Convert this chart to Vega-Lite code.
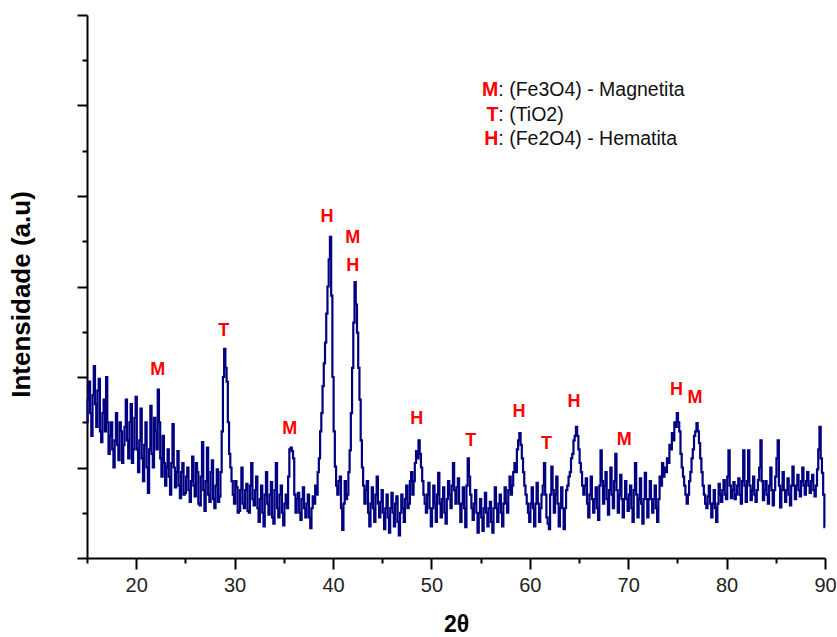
{
  "$schema": "https://vega.github.io/schema/vega-lite/v6.json",
  "width": 738,
  "height": 543,
  "autosize": "none",
  "padding": {"left": 87, "top": 15, "right": 12, "bottom": 79},
  "background": "white",
  "config": {"view": {"stroke": null}, "font": "Liberation Sans"},
  "datasets": {
    "xrd": [
{"t":15,"v":150},{"t":15.125,"v":175},{"t":15.25,"v":195},{"t":15.375,"v":160},{"t":15.5,"v":135},{"t":15.625,"v":180},{"t":15.75,"v":212},{"t":15.875,"v":170},
{"t":16,"v":145},{"t":16.125,"v":185},{"t":16.25,"v":198},{"t":16.375,"v":140},{"t":16.5,"v":128},{"t":16.625,"v":160},{"t":16.75,"v":175},{"t":16.875,"v":140},
{"t":17,"v":200},{"t":17.125,"v":150},{"t":17.25,"v":115},{"t":17.375,"v":135},{"t":17.5,"v":150},{"t":17.625,"v":120},{"t":17.75,"v":100},{"t":17.875,"v":130},
{"t":18,"v":160},{"t":18.125,"v":125},{"t":18.25,"v":108},{"t":18.375,"v":150},{"t":18.5,"v":140},{"t":18.625,"v":105},{"t":18.75,"v":125},{"t":18.875,"v":145},
{"t":19,"v":175},{"t":19.125,"v":130},{"t":19.25,"v":110},{"t":19.375,"v":150},{"t":19.5,"v":170},{"t":19.625,"v":105},{"t":19.75,"v":120},{"t":19.875,"v":155},
{"t":20,"v":178},{"t":20.125,"v":120},{"t":20.25,"v":95},{"t":20.375,"v":130},{"t":20.5,"v":165},{"t":20.625,"v":110},{"t":20.75,"v":85},{"t":20.875,"v":125},
{"t":21,"v":150},{"t":21.125,"v":100},{"t":21.25,"v":72},{"t":21.375,"v":120},{"t":21.5,"v":168},{"t":21.625,"v":115},{"t":21.75,"v":100},{"t":21.875,"v":155},
{"t":22,"v":140},{"t":22.125,"v":120},{"t":22.25,"v":186},{"t":22.375,"v":150},{"t":22.5,"v":110},{"t":22.625,"v":90},{"t":22.75,"v":135},{"t":22.875,"v":105},
{"t":23,"v":80},{"t":23.125,"v":100},{"t":23.25,"v":120},{"t":23.375,"v":90},{"t":23.5,"v":70},{"t":23.625,"v":105},{"t":23.75,"v":148},{"t":23.875,"v":100},
{"t":24,"v":78},{"t":24.125,"v":95},{"t":24.25,"v":118},{"t":24.375,"v":80},{"t":24.5,"v":66},{"t":24.625,"v":95},{"t":24.75,"v":105},{"t":24.875,"v":70},
{"t":25,"v":72},{"t":25.125,"v":90},{"t":25.25,"v":100},{"t":25.375,"v":75},{"t":25.5,"v":62},{"t":25.625,"v":85},{"t":25.75,"v":112},{"t":25.875,"v":80},
{"t":26,"v":68},{"t":26.125,"v":105},{"t":26.25,"v":95},{"t":26.375,"v":60},{"t":26.5,"v":58},{"t":26.625,"v":90},{"t":26.75,"v":128},{"t":26.875,"v":75},
{"t":27,"v":52},{"t":27.125,"v":85},{"t":27.25,"v":122},{"t":27.375,"v":70},{"t":27.5,"v":62},{"t":27.625,"v":95},{"t":27.75,"v":108},{"t":27.875,"v":65},
{"t":28,"v":55},{"t":28.125,"v":80},{"t":28.25,"v":98},{"t":28.375,"v":62},{"t":28.5,"v":68},{"t":28.625,"v":95},{"t":28.75,"v":140},{"t":28.875,"v":200},
{"t":29,"v":231},{"t":29.125,"v":210},{"t":29.25,"v":195},{"t":29.375,"v":150},{"t":29.5,"v":115},{"t":29.625,"v":100},{"t":29.75,"v":85},{"t":29.875,"v":70},
{"t":30,"v":60},{"t":30.125,"v":85},{"t":30.25,"v":78},{"t":30.375,"v":50},{"t":30.5,"v":52},{"t":30.625,"v":75},{"t":30.75,"v":100},{"t":30.875,"v":60},
{"t":31,"v":55},{"t":31.125,"v":75},{"t":31.25,"v":82},{"t":31.375,"v":52},{"t":31.5,"v":50},{"t":31.625,"v":80},{"t":31.75,"v":105},{"t":31.875,"v":65},
{"t":32,"v":58},{"t":32.125,"v":75},{"t":32.25,"v":90},{"t":32.375,"v":55},{"t":32.5,"v":40},{"t":32.625,"v":65},{"t":32.75,"v":80},{"t":32.875,"v":50},
{"t":33,"v":35},{"t":33.125,"v":70},{"t":33.25,"v":95},{"t":33.375,"v":60},{"t":33.5,"v":48},{"t":33.625,"v":70},{"t":33.75,"v":84},{"t":33.875,"v":45},
{"t":34,"v":38},{"t":34.125,"v":75},{"t":34.25,"v":105},{"t":34.375,"v":55},{"t":34.5,"v":45},{"t":34.625,"v":70},{"t":34.75,"v":80},{"t":34.875,"v":50},
{"t":35,"v":36},{"t":35.125,"v":60},{"t":35.25,"v":70},{"t":35.375,"v":55},{"t":35.5,"v":90},{"t":35.625,"v":120},{"t":35.75,"v":122},{"t":35.875,"v":118},
{"t":36,"v":110},{"t":36.125,"v":70},{"t":36.25,"v":50},{"t":36.375,"v":65},{"t":36.5,"v":72},{"t":36.625,"v":50},{"t":36.75,"v":42},{"t":36.875,"v":65},
{"t":37,"v":78},{"t":37.125,"v":55},{"t":37.25,"v":45},{"t":37.375,"v":60},{"t":37.5,"v":70},{"t":37.625,"v":45},{"t":37.75,"v":33},{"t":37.875,"v":55},
{"t":38,"v":68},{"t":38.125,"v":60},{"t":38.25,"v":80},{"t":38.375,"v":70},{"t":38.5,"v":95},{"t":38.625,"v":110},{"t":38.75,"v":140},{"t":38.875,"v":160},
{"t":39,"v":190},{"t":39.125,"v":215},{"t":39.25,"v":238},{"t":39.375,"v":270},{"t":39.5,"v":300},{"t":39.625,"v":330},{"t":39.75,"v":355},{"t":39.875,"v":290},
{"t":40,"v":200},{"t":40.125,"v":140},{"t":40.25,"v":101},{"t":40.375,"v":80},{"t":40.5,"v":70},{"t":40.625,"v":85},{"t":40.75,"v":90},{"t":40.875,"v":55},
{"t":41,"v":31},{"t":41.125,"v":60},{"t":41.25,"v":85},{"t":41.375,"v":65},{"t":41.5,"v":70},{"t":41.625,"v":95},{"t":41.75,"v":119},{"t":41.875,"v":160},
{"t":42,"v":210},{"t":42.125,"v":260},{"t":42.25,"v":305},{"t":42.375,"v":280},{"t":42.5,"v":249},{"t":42.625,"v":210},{"t":42.75,"v":175},{"t":42.875,"v":130},
{"t":43,"v":100},{"t":43.125,"v":80},{"t":43.25,"v":60},{"t":43.375,"v":75},{"t":43.5,"v":85},{"t":43.625,"v":50},{"t":43.75,"v":35},{"t":43.875,"v":60},
{"t":44,"v":78},{"t":44.125,"v":55},{"t":44.25,"v":40},{"t":44.375,"v":70},{"t":44.5,"v":90},{"t":44.625,"v":60},{"t":44.75,"v":45},{"t":44.875,"v":62},
{"t":45,"v":75},{"t":45.125,"v":50},{"t":45.25,"v":32},{"t":45.375,"v":55},{"t":45.5,"v":70},{"t":45.625,"v":45},{"t":45.75,"v":28},{"t":45.875,"v":55},
{"t":46,"v":72},{"t":46.125,"v":50},{"t":46.25,"v":35},{"t":46.375,"v":60},{"t":46.5,"v":68},{"t":46.625,"v":40},{"t":46.75,"v":25},{"t":46.875,"v":50},
{"t":47,"v":70},{"t":47.125,"v":55},{"t":47.25,"v":40},{"t":47.375,"v":65},{"t":47.5,"v":80},{"t":47.625,"v":55},{"t":47.75,"v":60},{"t":47.875,"v":85},
{"t":48,"v":95},{"t":48.125,"v":70},{"t":48.25,"v":85},{"t":48.375,"v":105},{"t":48.5,"v":118},{"t":48.625,"v":110},{"t":48.75,"v":130},{"t":48.875,"v":115},
{"t":49,"v":100},{"t":49.125,"v":85},{"t":49.25,"v":70},{"t":49.375,"v":60},{"t":49.5,"v":50},{"t":49.625,"v":70},{"t":49.75,"v":83},{"t":49.875,"v":55},
{"t":50,"v":35},{"t":50.125,"v":55},{"t":50.25,"v":80},{"t":50.375,"v":60},{"t":50.5,"v":40},{"t":50.625,"v":70},{"t":50.75,"v":94},{"t":50.875,"v":60},
{"t":51,"v":45},{"t":51.125,"v":65},{"t":51.25,"v":78},{"t":51.375,"v":50},{"t":51.5,"v":38},{"t":51.625,"v":65},{"t":51.75,"v":85},{"t":51.875,"v":70},
{"t":52,"v":55},{"t":52.125,"v":80},{"t":52.25,"v":105},{"t":52.375,"v":75},{"t":52.5,"v":60},{"t":52.625,"v":78},{"t":52.75,"v":88},{"t":52.875,"v":60},
{"t":53,"v":40},{"t":53.125,"v":60},{"t":53.25,"v":78},{"t":53.375,"v":55},{"t":53.5,"v":34},{"t":53.625,"v":80},{"t":53.75,"v":110},{"t":53.875,"v":90},
{"t":54,"v":70},{"t":54.125,"v":55},{"t":54.25,"v":42},{"t":54.375,"v":60},{"t":54.5,"v":75},{"t":54.625,"v":50},{"t":54.75,"v":28},{"t":54.875,"v":50},
{"t":55,"v":65},{"t":55.125,"v":45},{"t":55.25,"v":30},{"t":55.375,"v":55},{"t":55.5,"v":72},{"t":55.625,"v":50},{"t":55.75,"v":35},{"t":55.875,"v":55},
{"t":56,"v":62},{"t":56.125,"v":40},{"t":56.25,"v":28},{"t":56.375,"v":55},{"t":56.5,"v":78},{"t":56.625,"v":55},{"t":56.75,"v":40},{"t":56.875,"v":60},
{"t":57,"v":70},{"t":57.125,"v":50},{"t":57.25,"v":35},{"t":57.375,"v":60},{"t":57.5,"v":78},{"t":57.625,"v":60},{"t":57.75,"v":50},{"t":57.875,"v":75},
{"t":58,"v":90},{"t":58.125,"v":70},{"t":58.25,"v":80},{"t":58.375,"v":95},{"t":58.5,"v":105},{"t":58.625,"v":95},{"t":58.75,"v":120},{"t":58.875,"v":130},
{"t":59,"v":138},{"t":59.125,"v":125},{"t":59.25,"v":110},{"t":59.375,"v":95},{"t":59.5,"v":80},{"t":59.625,"v":70},{"t":59.75,"v":60},{"t":59.875,"v":50},
{"t":60,"v":40},{"t":60.125,"v":60},{"t":60.25,"v":78},{"t":60.375,"v":55},{"t":60.5,"v":35},{"t":60.625,"v":60},{"t":60.75,"v":83},{"t":60.875,"v":60},
{"t":61,"v":40},{"t":61.125,"v":55},{"t":61.25,"v":70},{"t":61.375,"v":80},{"t":61.5,"v":105},{"t":61.625,"v":70},{"t":61.75,"v":45},{"t":61.875,"v":38},
{"t":62,"v":32},{"t":62.125,"v":70},{"t":62.25,"v":101},{"t":62.375,"v":75},{"t":62.5,"v":50},{"t":62.625,"v":70},{"t":62.75,"v":90},{"t":62.875,"v":60},
{"t":63,"v":35},{"t":63.125,"v":55},{"t":63.25,"v":78},{"t":63.375,"v":55},{"t":63.5,"v":32},{"t":63.625,"v":55},{"t":63.75,"v":75},{"t":63.875,"v":80},
{"t":64,"v":90},{"t":64.125,"v":95},{"t":64.25,"v":110},{"t":64.375,"v":115},{"t":64.5,"v":130},{"t":64.625,"v":135},{"t":64.75,"v":145},{"t":64.875,"v":135},
{"t":65,"v":120},{"t":65.125,"v":105},{"t":65.25,"v":95},{"t":65.375,"v":80},{"t":65.5,"v":70},{"t":65.625,"v":80},{"t":65.75,"v":88},{"t":65.875,"v":60},
{"t":66,"v":45},{"t":66.125,"v":70},{"t":66.25,"v":90},{"t":66.375,"v":65},{"t":66.5,"v":50},{"t":66.625,"v":65},{"t":66.75,"v":78},{"t":66.875,"v":55},
{"t":67,"v":42},{"t":67.125,"v":80},{"t":67.25,"v":119},{"t":67.375,"v":85},{"t":67.5,"v":60},{"t":67.625,"v":80},{"t":67.75,"v":95},{"t":67.875,"v":65},
{"t":68,"v":48},{"t":68.125,"v":75},{"t":68.25,"v":100},{"t":68.375,"v":70},{"t":68.5,"v":55},{"t":68.625,"v":85},{"t":68.75,"v":115},{"t":68.875,"v":75},
{"t":69,"v":50},{"t":69.125,"v":70},{"t":69.25,"v":92},{"t":69.375,"v":65},{"t":69.5,"v":45},{"t":69.625,"v":65},{"t":69.75,"v":85},{"t":69.875,"v":65},
{"t":70,"v":52},{"t":70.125,"v":70},{"t":70.25,"v":80},{"t":70.375,"v":55},{"t":70.5,"v":40},{"t":70.625,"v":75},{"t":70.75,"v":105},{"t":70.875,"v":70},
{"t":71,"v":45},{"t":71.125,"v":65},{"t":71.25,"v":88},{"t":71.375,"v":60},{"t":71.5,"v":38},{"t":71.625,"v":65},{"t":71.75,"v":94},{"t":71.875,"v":65},
{"t":72,"v":45},{"t":72.125,"v":65},{"t":72.25,"v":85},{"t":72.375,"v":65},{"t":72.5,"v":50},{"t":72.625,"v":65},{"t":72.75,"v":80},{"t":72.875,"v":55},
{"t":73,"v":40},{"t":73.125,"v":65},{"t":73.25,"v":90},{"t":73.375,"v":80},{"t":73.5,"v":105},{"t":73.625,"v":90},{"t":73.75,"v":100},{"t":73.875,"v":95},
{"t":74,"v":110},{"t":74.125,"v":105},{"t":74.25,"v":125},{"t":74.375,"v":120},{"t":74.5,"v":138},{"t":74.625,"v":130},{"t":74.75,"v":150},{"t":74.875,"v":145},
{"t":75,"v":160},{"t":75.125,"v":150},{"t":75.25,"v":140},{"t":75.375,"v":115},{"t":75.5,"v":100},{"t":75.625,"v":90},{"t":75.75,"v":80},{"t":75.875,"v":70},
{"t":76,"v":60},{"t":76.125,"v":70},{"t":76.25,"v":85},{"t":76.375,"v":95},{"t":76.5,"v":110},{"t":76.625,"v":120},{"t":76.75,"v":135},{"t":76.875,"v":140},
{"t":77,"v":149},{"t":77.125,"v":140},{"t":77.25,"v":127},{"t":77.375,"v":110},{"t":77.5,"v":95},{"t":77.625,"v":80},{"t":77.75,"v":70},{"t":77.875,"v":60},
{"t":78,"v":55},{"t":78.125,"v":68},{"t":78.25,"v":80},{"t":78.375,"v":60},{"t":78.5,"v":45},{"t":78.625,"v":60},{"t":78.75,"v":75},{"t":78.875,"v":55},
{"t":79,"v":40},{"t":79.125,"v":60},{"t":79.25,"v":82},{"t":79.375,"v":70},{"t":79.5,"v":62},{"t":79.625,"v":75},{"t":79.75,"v":86},{"t":79.875,"v":70},
{"t":80,"v":65},{"t":80.125,"v":90},{"t":80.25,"v":119},{"t":80.375,"v":80},{"t":80.5,"v":66},{"t":80.625,"v":75},{"t":80.75,"v":84},{"t":80.875,"v":65},
{"t":81,"v":70},{"t":81.125,"v":80},{"t":81.25,"v":88},{"t":81.375,"v":70},{"t":81.5,"v":60},{"t":81.625,"v":85},{"t":81.75,"v":119},{"t":81.875,"v":80},
{"t":82,"v":62},{"t":82.125,"v":85},{"t":82.25,"v":119},{"t":82.375,"v":80},{"t":82.5,"v":64},{"t":82.625,"v":75},{"t":82.75,"v":90},{"t":82.875,"v":70},
{"t":83,"v":62},{"t":83.125,"v":75},{"t":83.25,"v":86},{"t":83.375,"v":100},{"t":83.5,"v":130},{"t":83.625,"v":85},{"t":83.75,"v":64},{"t":83.875,"v":75},
{"t":84,"v":85},{"t":84.125,"v":70},{"t":84.25,"v":60},{"t":84.375,"v":80},{"t":84.5,"v":100},{"t":84.625,"v":75},{"t":84.75,"v":58},{"t":84.875,"v":75},
{"t":85,"v":90},{"t":85.125,"v":110},{"t":85.25,"v":130},{"t":85.375,"v":80},{"t":85.5,"v":56},{"t":85.625,"v":75},{"t":85.75,"v":95},{"t":85.875,"v":75},
{"t":86,"v":62},{"t":86.125,"v":75},{"t":86.25,"v":88},{"t":86.375,"v":70},{"t":86.5,"v":58},{"t":86.625,"v":80},{"t":86.75,"v":101},{"t":86.875,"v":80},
{"t":87,"v":65},{"t":87.125,"v":80},{"t":87.25,"v":92},{"t":87.375,"v":75},{"t":87.5,"v":68},{"t":87.625,"v":85},{"t":87.75,"v":100},{"t":87.875,"v":80},
{"t":88,"v":70},{"t":88.125,"v":85},{"t":88.25,"v":95},{"t":88.375,"v":80},{"t":88.5,"v":72},{"t":88.625,"v":85},{"t":88.75,"v":92},{"t":88.875,"v":75},
{"t":89,"v":68},{"t":89.125,"v":80},{"t":89.25,"v":98},{"t":89.375,"v":120},{"t":89.5,"v":145},{"t":89.625,"v":110},{"t":89.75,"v":94},{"t":89.875,"v":70},
{"t":90,"v":34}
    ],
    "ann": [
      {"t":22.2,"v":208,"lab":"M"},{"t":28.9,"v":251,"lab":"T"},{"t":35.6,"v":143,"lab":"M"},{"t":39.4,"v":377,"lab":"H"},
      {"t":42.0,"v":354,"lab":"M"},{"t":42.0,"v":323,"lab":"H"},{"t":48.5,"v":154,"lab":"H"},{"t":54.0,"v":129,"lab":"T"},
      {"t":58.9,"v":161,"lab":"H"},{"t":61.7,"v":126,"lab":"T"},{"t":64.5,"v":172,"lab":"H"},{"t":69.6,"v":130,"lab":"M"},
      {"t":74.9,"v":186,"lab":"H"},{"t":76.8,"v":177,"lab":"M"}
    ],
    "leg": [
      {"t":56.8,"v":517,"key":"M","desc":": (Fe3O4) - Magnetita"},
      {"t":56.8,"v":490,"key":"T","desc":": (TiO2)"},
      {"t":56.8,"v":463,"key":"H","desc":": (Fe2O4) - Hematita"}
    ]
  },
  "layer": [
    {
      "data": {"name": "xrd"},
      "mark": {"type": "line", "color": "#000080", "strokeWidth": 2.2, "interpolate": "step"},
      "encoding": {
        "x": {
          "field": "t", "type": "quantitative",
          "scale": {"domain": [15, 90], "nice": false, "zero": false},
          "axis": {
            "title": "2θ", "titleFontSize": 23, "titleFontWeight": "bold", "titleColor": "#000", "titlePadding": 18,
            "values": [15,20,25,30,35,40,45,50,55,60,65,70,75,80,85,90],
            "labelExpr": "datum.value % 10 === 0 ? datum.label : ''",
            "labelFontSize": 20, "labelColor": "#222", "labelPadding": 6, "labelFlush": false,
            "domainColor": "#000", "domainWidth": 2, "tickColor": "#000", "tickWidth": 2,
            "tickSize": {"condition": {"test": "datum.value % 10 === 0", "value": 11}, "value": 5},
            "grid": false
          }
        },
        "y": {
          "field": "v", "type": "quantitative",
          "scale": {"domain": [0, 600], "nice": false},
          "axis": {
            "title": "Intensidade (a.u)", "titleFontSize": 26, "titleFontWeight": "bold", "titleColor": "#000", "titlePadding": 42, "titleY": 279,
            "values": [0,50,100,150,200,250,300,350,400,450,500,550,600],
            "labels": false,
            "domainColor": "#000", "domainWidth": 2, "tickColor": "#000", "tickWidth": 2,
            "tickSize": {"condition": {"test": "datum.value % 100 === 0", "value": 10}, "value": 5},
            "grid": false
          }
        }
      }
    },
    {
      "data": {"name": "ann"},
      "mark": {"type": "text", "color": "#ff0000", "fontSize": 18, "fontWeight": "bold", "align": "center", "baseline": "middle"},
      "encoding": {
        "x": {"field": "t", "type": "quantitative"},
        "y": {"field": "v", "type": "quantitative"},
        "text": {"field": "lab"}
      }
    },
    {
      "data": {"name": "leg"},
      "mark": {"type": "text", "color": "#ff0000", "fontSize": 19.5, "fontWeight": "bold", "align": "right", "baseline": "middle"},
      "encoding": {
        "x": {"field": "t", "type": "quantitative"},
        "y": {"field": "v", "type": "quantitative"},
        "text": {"field": "key"}
      }
    },
    {
      "data": {"name": "leg"},
      "mark": {"type": "text", "color": "#111", "fontSize": 19.5, "align": "left", "baseline": "middle"},
      "encoding": {
        "x": {"field": "t", "type": "quantitative"},
        "y": {"field": "v", "type": "quantitative"},
        "text": {"field": "desc"}
      }
    }
  ]
}
